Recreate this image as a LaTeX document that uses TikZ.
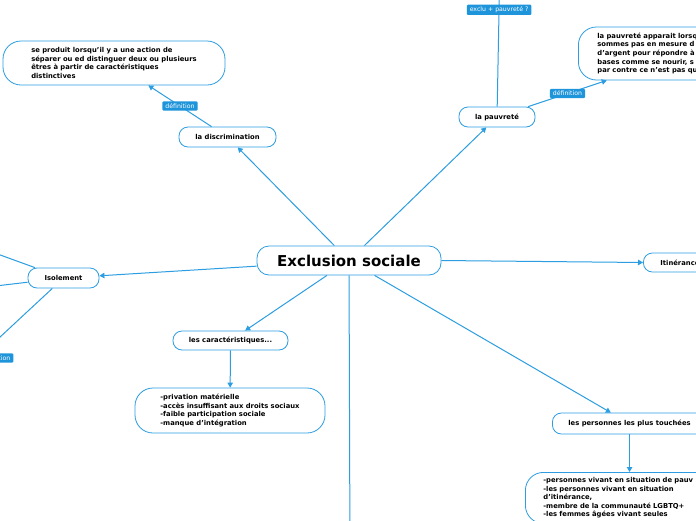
\documentclass[tikz,border=0pt]{standalone}
\usepackage{fontspec}
\setmainfont{DejaVu Sans}
\usetikzlibrary{arrows.meta}
\definecolor{lineblue}{RGB}{43,157,224}
\definecolor{labblue}{RGB}{30,148,218}
\tikzset{
  topic/.style={draw=lineblue, line width=0.8pt, rounded corners=9pt, fill=white,
    font=\fontsize{6.8}{8}\selectfont\bfseries, inner xsep=0pt, inner ysep=0pt},
  bigbox/.style={draw=lineblue, line width=0.8pt, rounded corners=18pt, fill=white,
    font=\fontsize{6.8}{8.6}\selectfont\bfseries, align=left},
  lab/.style={fill=labblue, text=white, font=\fontsize{6.2}{7}\selectfont,
    inner xsep=3pt, inner ysep=2pt, rounded corners=1pt},
  conn/.style={draw=lineblue, line width=1pt, -{Triangle[length=5pt,width=5.5pt]}},
  plain/.style={draw=lineblue, line width=1pt}
}
\begin{document}
\begin{tikzpicture}[x=1pt,y=-1pt]
\useasboundingbox (0,0) rectangle (696,520);
\clip (0,0) rectangle (696,520);

% central
\node[draw=lineblue, line width=0.8pt, rounded corners=12pt, fill=white,
  minimum width=184pt, minimum height=29pt, inner sep=0pt,
  font=\fontsize{15}{17}\selectfont\bfseries] (central) at (349,260.5) {Exclusion sociale};

% topics
\node[topic, minimum width=97pt, minimum height=20pt] (disc) at (227.5,137) {la discrimination};
\node[topic, minimum width=76pt, minimum height=20pt] (pauv) at (497,117) {la pauvreté};
\node[topic, minimum width=71pt, minimum height=20pt] (isol) at (63.5,278) {Isolement};
\node[topic, minimum width=115pt, minimum height=19pt] (caract) at (230.5,340.5) {les caractéristiques...};
\node[topic, anchor=west, minimum height=19pt, inner xsep=17pt] (itin) at (643,262.5) {Itinérance};
\node[topic, anchor=west, minimum height=21pt, inner xsep=16pt] (pers) at (552,423.5) {les personnes les plus touchées};

% big boxes
\node[bigbox, minimum width=222pt, minimum height=44pt, inner xsep=0pt, inner ysep=0pt]
  (defd) at (114,63) {se produit lorsqu'il y a une action de\\ séparer ou ed distinguer deux ou plusieurs\\ êtres à partir de caractéristiques\\ distinctives};
\node[bigbox, anchor=west, minimum height=53pt, text width=180pt, inner xsep=19pt, inner ysep=0pt]
  (defp) at (578,53.5) {la pauvreté apparait lorsqu\\ sommes pas en mesure d\\ d'argent pour répondre à\\ bases comme se nourir, s\\ par contre ce n'est pas qu};
\node[bigbox, minimum width=190pt, minimum height=45pt, inner xsep=0pt, inner ysep=0pt]
  (cchild) at (230,410.5) {-privation matérielle\\ -accès insuffisant aux droits sociaux\\ -faible participation sociale\\ -manque d'intégration};
\node[bigbox, anchor=north west, text width=180pt, inner xsep=18pt, inner ysep=5pt]
  (pchild) at (525,472) {-personnes vivant en situation de pauv\\ -les personnes vivant en situation\\ d'itinérance,\\ -membre de la communauté LGBTQ+\\ -les femmes âgées vivant seules\\ };

% off-canvas coordinates
\coordinate (offb) at (350,560);
\coordinate (offt) at (500,-40);
\coordinate (offl1) at (-30,244);
\coordinate (offl2) at (-30,289);
\coordinate (offl3) at (-30,365);

% connectors
\draw[conn] (central) -- (disc);
\draw[conn] (central) -- (pauv);
\draw[conn] (central) -- (isol);
\draw[conn] (central) -- (caract);
\draw[conn] (central.east) -- (itin.west);
\draw[conn] (central) -- (pers);
\draw[plain] (central) -- (offb);
\draw[conn] (caract) -- (cchild);
\draw[conn] (pers.south) -- (pers.south |- pchild.north);
\draw[conn] (disc) -- (defd) node[lab, midway] {définition};
\draw[conn] (pauv) -- (defp) node[lab, midway] {définition};
\draw[plain] (pauv) -- (offt) node[lab, pos=0.66] {exclu + pauvreté ?};
\draw[plain] (isol) -- (offl1);
\draw[plain] (isol) -- (offl2);
\draw[plain] (isol) -- (offl3);
\node[lab, anchor=east] (lablft) at (13.5,358) {définition};
\end{tikzpicture}
\end{document}
